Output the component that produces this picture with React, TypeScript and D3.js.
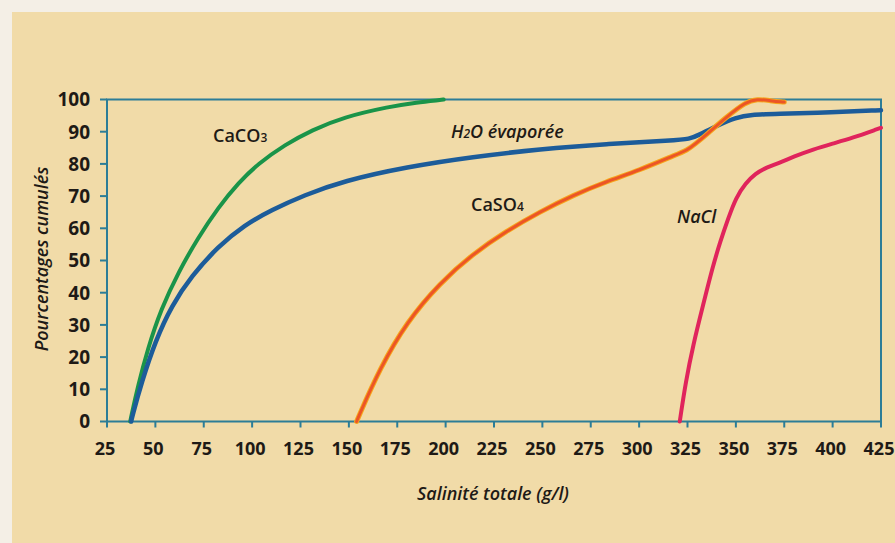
import React from "react";
import * as d3 from "d3";

const W = 895;
const H = 543;

const xTicks = [25, 50, 75, 100, 125, 150, 175, 200, 225, 250, 275, 300, 325, 350, 375, 400, 425];
const yTicks = [0, 10, 20, 30, 40, 50, 60, 70, 80, 90, 100];

const caco3: [number, number][] = [
  [37, 0], [37.5, 1.5], [41, 11], [46, 22.5], [53, 35], [62, 46.5], [72, 57], [82.5, 66.5], [93, 74.2],
  [103, 80], [117, 86], [131, 90.5], [147, 94.5], [171, 97.8], [185, 99.1], [198, 99.9], [199, 100],
];
const h2o: [number, number][] = [
  [37.5, 0], [38, 1.5], [43, 12.4], [50, 25], [58.4, 36], [68.7, 45.2], [82.5, 54.4], [96, 61], [110, 65.7],
  [127, 70.3], [147, 74.7], [180, 79.1], [214, 82.2], [249, 84.6], [283, 86.2], [318, 87.3], [326, 87.7],
  [331, 89], [340, 91.8], [350, 94.4], [358, 95.3], [370, 95.5], [400, 96], [424, 96.7], [425, 96.7],
];
const caso4: [number, number][] = [
  [154, 0], [155, 1.5], [166, 16.5], [180, 31], [197, 43], [214, 52], [231, 59], [249, 65.2], [266, 70.3],
  [283, 74.5], [300, 78], [318, 82.6], [325, 84.3], [329, 86.2], [335, 89.2], [345, 94.5], [355, 99.2],
  [361, 100.2], [368, 99.6], [374, 99.2], [375, 99.2],
];
const nacl: [number, number][] = [
  [321, 0], [321.5, 2], [324, 12], [328, 24], [333, 36], [338, 48], [342, 56], [346, 63], [350, 69.5],
  [355, 74], [360, 77], [366, 79], [372, 80.2], [380, 82.3], [390, 84.5], [400, 86.3],
  [410, 88], [424, 91], [425, 91.2],
];

const FONT = "'Liberation Sans Narrow', 'Open Sans', 'Liberation Sans', sans-serif";

export default function App() {
  const x = d3.scaleLinear().domain([25, 425]).range([107, 881]);
  const y = d3.scaleLinear().domain([0, 100]).range([421.5, 99.5]);
  const line = d3
    .line<[number, number]>()
    .x((d) => x(d[0]))
    .y((d) => y(d[1]))
    .curve(d3.curveBasis);

  const axisColor = "#2c7d97";
  const textColor = "#1e1a16";

  return (
    <div style={{ position: "absolute", left: 0, top: 0 }}>
      <svg width={W} height={H} style={{ display: "block" }}>
        <rect x={0} y={0} width={W} height={H} fill="#f4efe6" />
        <rect x={12} y={12} width={W - 12} height={H - 12} fill="#f1dba8" />

        {/* frame */}
        <rect x={x(25)} y={y(100)} width={x(425) - x(25)} height={y(0) - y(100)} fill="none" stroke={axisColor} strokeWidth={2} />

        {/* y ticks */}
        {yTicks.map((t) => (
          <g key={"y" + t}>
            <line x1={x(25) - 7} x2={x(25)} y1={y(t)} y2={y(t)} stroke={axisColor} strokeWidth={2} />
            <text x={90} y={y(t)} dy="0.36em" textAnchor="end" fontFamily={FONT} fontWeight="bold" fontSize={19} fill={textColor}>
              {t}
            </text>
          </g>
        ))}
        {/* x ticks */}
        {xTicks.map((t) => (
          <g key={"x" + t}>
            <line x1={x(t)} x2={x(t)} y1={y(0)} y2={y(0) + 6} stroke={axisColor} strokeWidth={2} />
            <text x={x(t) - 2} y={455} textAnchor="middle" fontFamily={FONT} fontWeight="bold" fontSize={18} fill={textColor}>
              {t}
            </text>
          </g>
        ))}

        {/* axis titles */}
        <text x={493} y={500} textAnchor="middle" fontFamily={FONT} fontStyle="italic" fontWeight={600} fontSize={18} fill={textColor}>
          Salinité totale (g/l)
        </text>
        <text transform="translate(48,259) rotate(-90)" textAnchor="middle" fontFamily={FONT} fontStyle="italic" fontWeight={600} fontSize={18} fill={textColor}>
          Pourcentages cumulés
        </text>

        {/* curves */}
        <path d={line(caco3) || ""} fill="none" stroke="#1a9449" strokeWidth={4} strokeLinecap="round" />
        <path d={line(h2o) || ""} fill="none" stroke="#1c5c9a" strokeWidth={4.5} strokeLinecap="round" />
        <path d={line(caso4) || ""} fill="none" stroke="#f6a51c" strokeWidth={5} strokeLinecap="round" />
        <path d={line(caso4) || ""} fill="none" stroke="#ec5526" strokeWidth={3} strokeLinecap="round" />
        <path d={line(nacl) || ""} fill="none" stroke="#e0245c" strokeWidth={4} strokeLinecap="round" />

        {/* labels */}
        <text x={213} y={142} fontFamily={FONT} fontWeight={600} fontSize={18} fill={textColor}>
          CaCO<tspan fontSize={12}>3</tspan>
        </text>
        <text x={451} y={138} fontFamily={FONT} fontStyle="italic" fontWeight={600} fontSize={18} fill={textColor}>
          H<tspan fontSize={12}>2</tspan>O évaporée
        </text>
        <text x={471} y={211} fontFamily={FONT} fontWeight={600} fontSize={18} fill={textColor}>
          CaSO<tspan fontSize={12}>4</tspan>
        </text>
        <text x={677} y={223} fontFamily={FONT} fontStyle="italic" fontWeight={600} fontSize={18} fill={textColor}>
          NaCl
        </text>
      </svg>
    </div>
  );
}
